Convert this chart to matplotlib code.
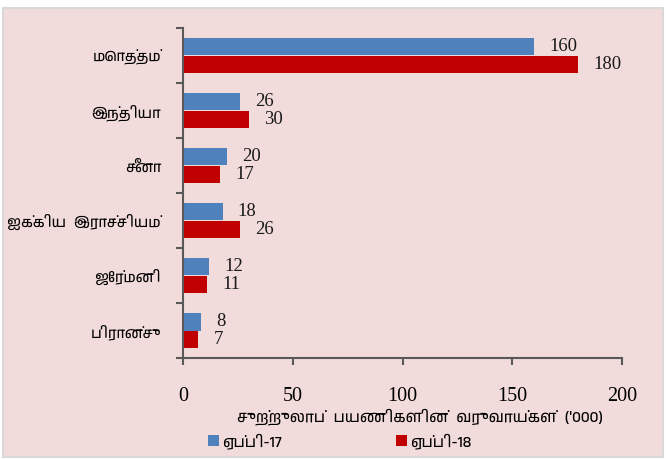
import matplotlib
matplotlib.use("Agg")
import matplotlib.pyplot as plt
from matplotlib import font_manager
from matplotlib.patches import Rectangle

# 数据
categories = ["மொத்தம்", "இந்தியா", "சீனா", "ஐக்கிய  இராச்சியம்", "ஜேர்மனி", "பிரான்சு"]
apr_17 = [160, 26, 20, 18, 12, 8]
apr_18 = [180, 30, 17, 26, 11, 7]
series_names = ["ஏப்பி-17", "ஏப்பி-18"]
x_ticks = [0, 50, 100, 150, 200]
x_label = "சுற்றுலாப்  பயணிகளின்  வருவாய்கள்  ('000)"

# 泰米尔字体（若已安装）
tamil_fonts = [f.name for f in font_manager.fontManager.ttflist if "Tamil" in f.name or "Lohit" in f.name or "Latha" in f.name]
tamil_family = sorted(set(tamil_fonts)) + ["Liberation Serif", "DejaVu Sans"]

blue = "#4F81BD"
red = "#C00000"
bg = "#F2DCDB"

fig = plt.figure(figsize=(6.66, 4.59), dpi=100)
fig.patch.set_facecolor("white")
fig.patches.append(Rectangle((0.004, 0.004), 0.992, 0.978, transform=fig.transFigure,
                             facecolor=bg, edgecolor="#D9D9D9", linewidth=1.5, zorder=-5))

ax = fig.add_axes([183 / 666, 1 - 358 / 459, (622 - 183) / 666, (358 - 28) / 459])
ax.set_facecolor("none")

n = len(categories)
pos = list(range(n))
h = 0.32
y_blue = [p - h / 2 for p in pos]
y_red = [p + h / 2 for p in pos]
b1 = ax.barh(y_blue, apr_17, height=h, color=blue, label=series_names[0])
b2 = ax.barh(y_red, apr_18, height=h, color=red, label=series_names[1])

for yb, v in zip(y_blue, apr_17):
    ax.annotate(str(v), (v, yb), xytext=(11, 0), textcoords="offset points",
                va="center", ha="left", fontsize=13.5, family="Liberation Serif", color="#1a1a1a")
for yr, v in zip(y_red, apr_18):
    ax.annotate(str(v), (v, yr), xytext=(11, 0), textcoords="offset points",
                va="center", ha="left", fontsize=13.5, family="Liberation Serif", color="#1a1a1a")

ax.set_ylim(n - 0.5, -0.5)
ax.set_xlim(0, 200)
ax.set_yticks(pos)
ax.set_yticklabels(categories, family=tamil_family, fontsize=10.5)
ax.set_yticks([p - 0.5 for p in range(n + 1)], minor=True)
ax.tick_params(axis="y", which="major", length=0, pad=16)
ax.tick_params(axis="y", which="minor", length=5, width=1.5, color="#595959", direction="out")
ax.set_xticks(x_ticks)
ax.set_xticklabels([str(t) for t in x_ticks], family="Liberation Serif", fontsize=14.5)
ax.tick_params(axis="x", length=5, width=1.5, color="#595959", direction="out", pad=16)

for s in ["top", "right"]:
    ax.spines[s].set_visible(False)
for s in ["left", "bottom"]:
    ax.spines[s].set_color("#595959")
    ax.spines[s].set_linewidth(1.5)

ax.set_xlabel(x_label, family=tamil_family, fontsize=11, labelpad=0)
ax.xaxis.set_label_coords(0.54, -0.152)

leg = fig.legend(handles=[b1, b2], loc="center", bbox_to_anchor=(0.51, 1 - 441 / 459), ncol=2,
                 frameon=False, handlelength=0.7, handleheight=0.7, handletextpad=0.2,
                 columnspacing=7.5, prop={"family": tamil_family, "size": 11})

fig.savefig("out.png", dpi=100, facecolor=fig.get_facecolor())
